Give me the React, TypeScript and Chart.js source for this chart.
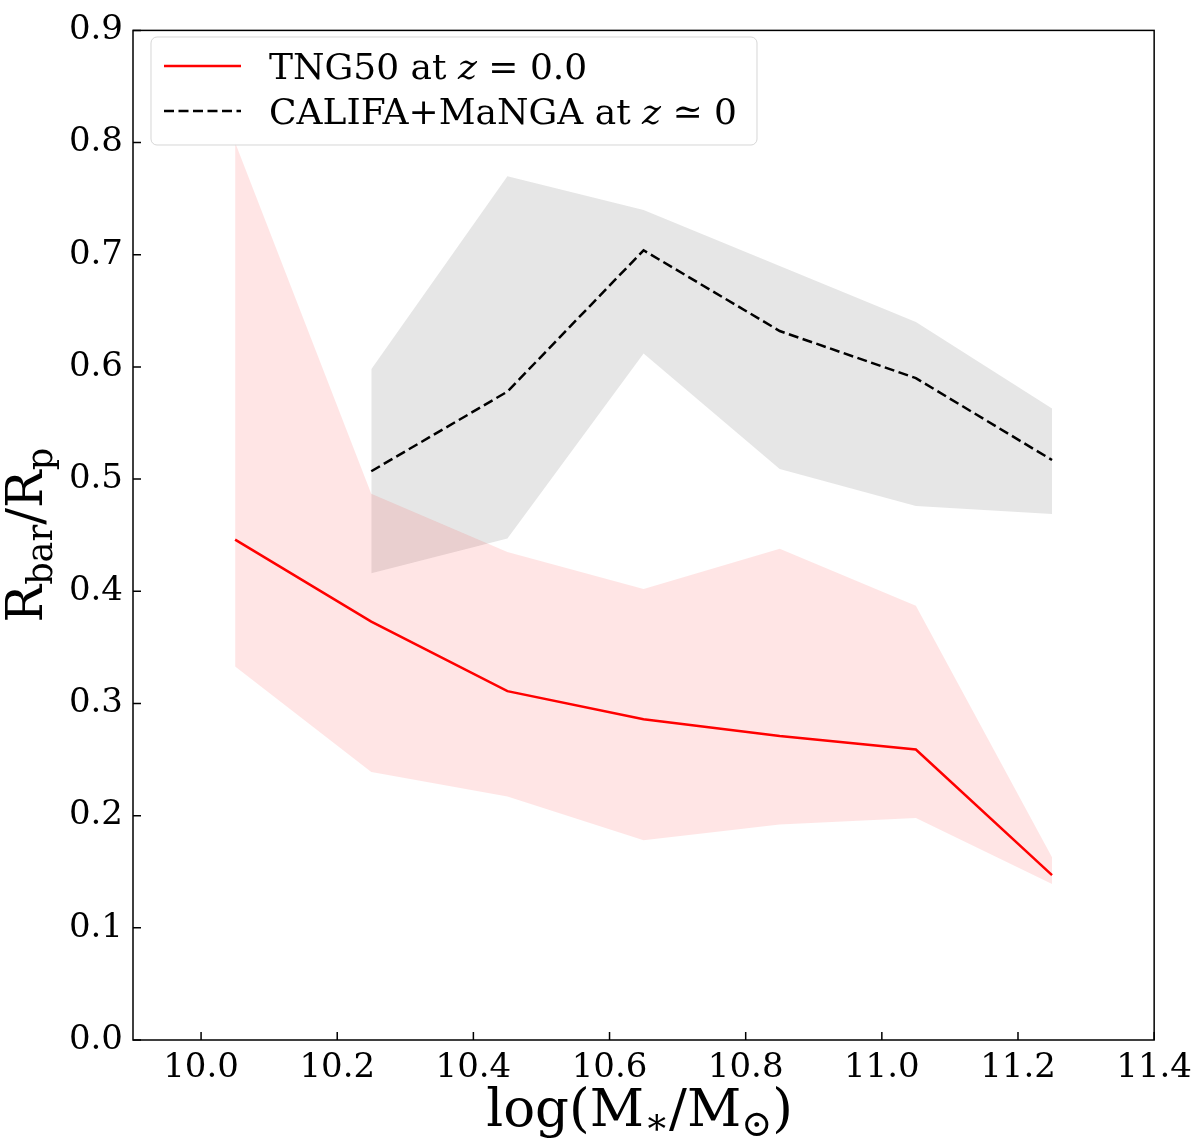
import React, { useEffect, useRef } from "react";
import { Chart, registerables } from "chart.js";

Chart.register(...registerables);

const SERIF = "'DejaVu Serif', 'Liberation Serif', serif";

// stellar-mass bins (log M*/Msun)
const tngMass = [10.05, 10.25, 10.45, 10.65, 10.85, 11.05, 11.25];
const tngMedian = [0.446, 0.373, 0.311, 0.286, 0.271, 0.259, 0.147];
const tngUpper = [0.8, 0.487, 0.435, 0.402, 0.438, 0.387, 0.163];
const tngLower = [0.333, 0.239, 0.217, 0.178, 0.192, 0.198, 0.139];

const obsMass = [10.25, 10.45, 10.65, 10.85, 11.05, 11.25];
const obsMedian = [0.507, 0.578, 0.704, 0.632, 0.59, 0.517];
const obsUpper = [0.598, 0.77, 0.74, 0.69, 0.64, 0.563];
const obsLower = [0.416, 0.447, 0.612, 0.509, 0.476, 0.469];

const xTicks = [10.0, 10.2, 10.4, 10.6, 10.8, 11.0, 11.2, 11.4];
const yTicks = [0.0, 0.1, 0.2, 0.3, 0.4, 0.5, 0.6, 0.7, 0.8, 0.9];

const RED = "#ff0000";
const DASH = [10, 4.5];

const toPoints = (xs: number[], ys: number[]) => xs.map((x, i) => ({ x, y: ys[i] }));

type Part = { t: string; size: number; italic?: boolean; dy?: number };

function partsWidth(ctx: CanvasRenderingContext2D, parts: Part[]) {
  let w = 0;
  for (const p of parts) {
    ctx.font = `${p.italic ? "italic " : ""}${p.size}px ${SERIF}`;
    w += ctx.measureText(p.t).width;
  }
  return w;
}

function drawParts(ctx: CanvasRenderingContext2D, parts: Part[], x: number, y: number) {
  let cx = x;
  for (const p of parts) {
    ctx.font = `${p.italic ? "italic " : ""}${p.size}px ${SERIF}`;
    ctx.fillText(p.t, cx, y + (p.dy || 0));
    cx += ctx.measureText(p.t).width;
  }
}

// border box, inward ticks, axis titles with subscripts and the legend
const framePlugin = {
  id: "frame",
  afterDraw(chart: any) {
    const { ctx, chartArea: a, scales } = chart;
    ctx.save();
    ctx.strokeStyle = "#000";
    ctx.fillStyle = "#000";
    ctx.lineWidth = 1.5;
    ctx.strokeRect(a.left, a.top, a.right - a.left, a.bottom - a.top);

    ctx.beginPath();
    for (const v of xTicks) {
      const px = scales.x.getPixelForValue(v);
      ctx.moveTo(px, a.bottom);
      ctx.lineTo(px, a.bottom - 8);
    }
    for (const v of yTicks) {
      const py = scales.y.getPixelForValue(v);
      ctx.moveTo(a.left, py);
      ctx.lineTo(a.left + 8, py);
    }
    ctx.stroke();

    // axis titles
    ctx.textBaseline = "alphabetic";
    const xTitle: Part[] = [
      { t: "log(M", size: 53 },
      { t: "\u2217", size: 37, dy: 8 },
      { t: "/M", size: 53 },
      { t: "\u2299", size: 37, dy: 10 },
      { t: ")", size: 53 },
    ];
    const xw = partsWidth(ctx, xTitle);
    drawParts(ctx, xTitle, (a.left + a.right) / 2 - 4 - xw / 2, 1126);

    const yTitle: Part[] = [
      { t: "R", size: 50 },
      { t: "bar", size: 35, dy: 10 },
      { t: "/R", size: 50 },
      { t: "p", size: 35, dy: 10 },
    ];
    const yw = partsWidth(ctx, yTitle);
    ctx.save();
    ctx.translate(42, (a.top + a.bottom) / 2);
    ctx.rotate(-Math.PI / 2);
    drawParts(ctx, yTitle, -yw / 2, 0);
    ctx.restore();

    // legend
    const lx = 151, ly = 37, lw = 606, lh = 108, r = 6;
    ctx.beginPath();
    ctx.moveTo(lx + r, ly);
    ctx.arcTo(lx + lw, ly, lx + lw, ly + lh, r);
    ctx.arcTo(lx + lw, ly + lh, lx, ly + lh, r);
    ctx.arcTo(lx, ly + lh, lx, ly, r);
    ctx.arcTo(lx, ly, lx + lw, ly, r);
    ctx.closePath();
    ctx.fillStyle = "rgba(255,255,255,0.8)";
    ctx.fill();
    ctx.strokeStyle = "rgba(204,204,204,0.8)";
    ctx.lineWidth = 1;
    ctx.stroke();

    const rows = [
      { color: RED, dash: [] as number[], y: 66, parts: [
        { t: "TNG50 at ", size: 36 },
        { t: "z", size: 36, italic: true },
        { t: " = 0.0", size: 36 },
      ] },
      { color: "#000", dash: DASH, y: 111, parts: [
        { t: "CALIFA+MaNGA at ", size: 36 },
        { t: "z", size: 36, italic: true },
        { t: " \u2243 0", size: 36 },
      ] },
    ];
    for (const row of rows) {
      ctx.beginPath();
      ctx.strokeStyle = row.color;
      ctx.lineWidth = 2.5;
      ctx.setLineDash(row.dash);
      ctx.moveTo(164, row.y);
      ctx.lineTo(241, row.y);
      ctx.stroke();
      ctx.setLineDash([]);
      ctx.fillStyle = "#000";
      drawParts(ctx, row.parts, 269, row.y + 13);
    }
    ctx.restore();
  },
};

const App: React.FC = () => {
  const canvasRef = useRef<HTMLCanvasElement | null>(null);

  useEffect(() => {
    document.body.style.margin = "0";
    if (!canvasRef.current) return;

    const chart = new Chart(canvasRef.current, {
      type: "line",
      data: {
        datasets: [
          {
            label: "TNG50 at z=0.0",
            data: toPoints(tngMass, tngMedian),
            borderColor: RED,
            borderWidth: 2.5,
            pointRadius: 0,
            fill: false,
          },
          {
            label: "CALIFA+MaNGA at z~0",
            data: toPoints(obsMass, obsMedian),
            borderColor: "#000",
            borderWidth: 2.5,
            borderDash: DASH,
            pointRadius: 0,
            fill: false,
          },
          {
            label: "tng lower",
            data: toPoints(tngMass, tngLower),
            borderWidth: 0,
            borderColor: "rgba(0,0,0,0)",
            pointRadius: 0,
            fill: false,
          },
          {
            label: "tng upper",
            data: toPoints(tngMass, tngUpper),
            borderWidth: 0,
            borderColor: "rgba(0,0,0,0)",
            backgroundColor: "rgba(255,0,0,0.1)",
            pointRadius: 0,
            fill: 2,
          },
          {
            label: "obs lower",
            data: toPoints(obsMass, obsLower),
            borderWidth: 0,
            borderColor: "rgba(0,0,0,0)",
            pointRadius: 0,
            fill: false,
          },
          {
            label: "obs upper",
            data: toPoints(obsMass, obsUpper),
            borderWidth: 0,
            borderColor: "rgba(0,0,0,0)",
            backgroundColor: "rgba(128,128,128,0.2)",
            pointRadius: 0,
            fill: 4,
          },
        ],
      },
      options: {
        responsive: false,
        animation: false,
        layout: { padding: { left: 0, right: 43, top: 20, bottom: 0 } },
        plugins: {
          legend: { display: false },
          tooltip: { enabled: false },
        },
        scales: {
          x: {
            type: "linear",
            min: 9.9,
            max: 11.4,
            grid: { display: false, drawTicks: false },
            border: { display: false },
            afterBuildTicks: (scale: any) => {
              scale.ticks = xTicks.map((value) => ({ value }));
            },
            afterFit: (scale: any) => {
              scale.height = 106;
            },
            ticks: {
              padding: 8,
              color: "#000",
              font: { family: SERIF, size: 34 },
              callback: (v: any) => Number(v).toFixed(1),
            },
          },
          y: {
            type: "linear",
            min: 0,
            max: 0.9,
            grid: { display: false, drawTicks: false },
            border: { display: false },
            afterBuildTicks: (scale: any) => {
              scale.ticks = yTicks.map((value) => ({ value }));
            },
            afterFit: (scale: any) => {
              scale.width = 133;
            },
            ticks: {
              padding: 10,
              color: "#000",
              font: { family: SERIF, size: 34 },
              callback: (v: any) => Number(v).toFixed(1),
            },
          },
        },
      },
      plugins: [framePlugin],
    });

    return () => {
      chart.destroy();
    };
  }, []);

  return (
    <div style={{ width: 1200, height: 1146, background: "#fff" }}>
      <canvas ref={canvasRef} width={1200} height={1146} style={{ display: "block" }} />
    </div>
  );
};

export default App;
